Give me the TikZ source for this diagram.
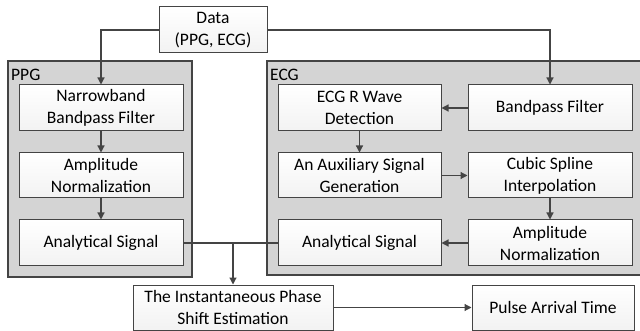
\documentclass[tikz,border=0pt]{standalone}
\usepackage{fontspec}
\setmainfont{Carlito}
\usepackage{xcolor}
\usepackage{tikz}
\usetikzlibrary{arrows.meta,positioning}

\definecolor{linegray}{RGB}{68,68,68}
\definecolor{groupgray}{RGB}{212,212,212}

\tikzset{
  stagebox/.style={draw=linegray, line width=1pt, top color=white, bottom color=gray!10,
    align=center, minimum height=46pt, inner sep=0pt, font=\fontsize{17.5}{22}\selectfont},
  groupbox/.style={draw=linegray, line width=1.2pt, fill=groupgray},
  flow/.style={draw=linegray, line width=1.2pt, -{Triangle[length=7pt,width=7pt]}},
  grouplabel/.style={anchor=west, inner sep=0pt, font=\fontsize{17.5}{20}\selectfont}
}

\begin{document}
\begin{tikzpicture}[x=1pt, y=-1pt]
  \useasboundingbox (0,0) rectangle (640,331);
  % groups
  \draw[groupbox] (8,61) rectangle (192,277);
  \draw[groupbox] (267,61) rectangle (645,275);
  \node[grouplabel] (ppglabel) at (11,75) {PPG};
  \node[grouplabel] (ecglabel) at (270,75) {ECG};

  \node[stagebox, minimum width=108pt] (data) at (213,30) {Data\\(PPG, ECG)};

  % PPG branch
  \node[stagebox, minimum width=164pt] (nbf)    at (101,108)   {Narrowband\\Bandpass Filter};
  \node[stagebox, minimum width=164pt, minimum height=45pt] (ppgamp) at (101,175.5) {Amplitude\\Normalization};
  \node[stagebox, minimum width=164pt] (ppgana) at (101,243)   {Analytical Signal};

  % ECG branch
  \node[stagebox, minimum width=164pt] (bpf)    at (550,108)   {Bandpass Filter};
  \node[stagebox, minimum width=163pt] (rwave)  at (359.5,108) {ECG R Wave\\Detection};
  \node[stagebox, minimum width=163pt, minimum height=45pt] (aux) at (359.5,175.5) {An Auxiliary Signal\\Generation};
  \node[stagebox, minimum width=164pt, minimum height=45pt] (csi) at (550,175.5) {Cubic Spline\\Interpolation};
  \node[stagebox, minimum width=164pt] (ecgamp) at (550,243)   {Amplitude\\Normalization};
  \node[stagebox, minimum width=163pt] (ecgana) at (359.5,243) {Analytical Signal};

  % output
  \node[stagebox, minimum width=200pt, minimum height=45pt] (phase) at (233,307.5) {The Instantaneous Phase\\Shift Estimation};
  \node[stagebox, minimum width=162pt, minimum height=45pt] (pat)   at (553,307.5) {Pulse Arrival Time};

  \draw[flow] (data.west) -| (nbf.north);
  \draw[flow] (data.east) -| (bpf.north);
  \draw[flow] (nbf) -- (ppgamp);
  \draw[flow] (ppgamp) -- (ppgana);
  \draw[flow] (bpf) -- (rwave);
  \draw[flow] (rwave) -- (aux);
  \draw[flow] (aux) -- (csi);
  \draw[flow] (csi) -- (ecgamp);
  \draw[flow] (ecgamp) -- (ecgana);
  \draw[draw=linegray, line width=1.2pt] (ppgana.east) -- (ecgana.west);
  \coordinate (join) at (ppgana.east -| phase.north);
  \draw[flow] (join) -- (phase.north);
  \draw[flow] (phase) -- (pat);
\end{tikzpicture}
\end{document}
